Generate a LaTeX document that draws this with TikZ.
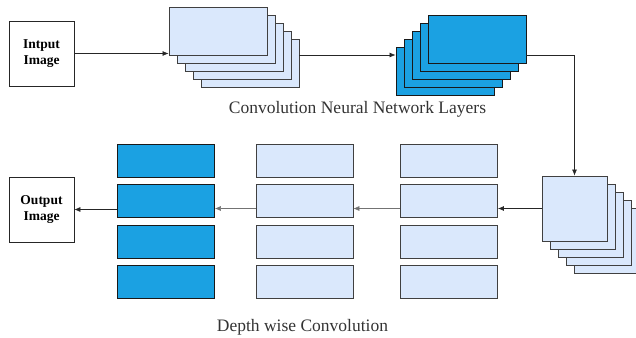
\documentclass[tikz,border=0pt]{standalone}
\usepackage{fontspec}
\setmainfont{Liberation Serif}
\usetikzlibrary{arrows.meta,calc}
\definecolor{lightb}{HTML}{DAE8FC}
\definecolor{darkb}{HTML}{1BA1E2}
\definecolor{edgeg}{HTML}{404040}
\tikzset{
  iobox/.style={draw=black!85, line width=0.7pt, fill=white, minimum width=65pt, minimum height=65pt, inner sep=0pt, align=center, font=\fontsize{13.5}{16}\selectfont\bfseries},
  lightbox/.style={draw=edgeg, line width=0.85pt, fill=lightb, inner sep=0pt},
  darkbox/.style={draw=black!90, line width=0.85pt, fill=darkb, inner sep=0pt},
  wide/.style={minimum width=98pt, minimum height=48pt},
  sq/.style={minimum width=65pt, minimum height=65pt},
  rowbox/.style={minimum width=97pt, minimum height=33pt},
  arr/.style={-{Latex[length=6pt,width=5pt]}, line width=0.7pt, draw=black!85},
  thinarr/.style={-{Latex[length=6pt,width=5pt]}, line width=0.5pt, draw=black!55},
  lbl/.style={font=\fontsize{17.5}{20}\selectfont, text=black!80, anchor=base, inner sep=0pt}
}
\begin{document}
\begin{tikzpicture}[x=1pt,y=-1pt]
\useasboundingbox (0,0) rectangle (636,337);
% input / output
\node[iobox] (in) at (41.5,53.5) {Intput\\Image};
\node[iobox] (out) at (41.5,209.5) {Output\\Image};
% stack 1 (light, offsets +8,+8)
\foreach \i/\n in {4/e,3/d,2/c,1/b,0/a}{
  \node[lightbox,wide] (s1\n) at (218+8*\i,31+8*\i) {};
}
% stack 2 (dark, offsets -8,+8)
\foreach \i/\n in {4/e,3/d,2/c,1/b,0/a}{
  \node[darkbox,wide] (s2\n) at (477-8*\i,39+8.2*\i) {};
}
% stack 3 (light squares, offsets +8,+8)
\foreach \i/\n in {4/e,3/d,2/c,1/b,0/a}{
  \node[lightbox,sq] (s3\n) at (574.5+8*\i,208.5+8.2*\i) {};
}
% columns
\foreach \y/\n in {160.5/a,201/b,242/c,281.5/d}{
  \node[darkbox,rowbox] (c1\n) at (166,\y) {};
  \node[lightbox,rowbox] (c2\n) at (304.5,\y) {};
  \node[lightbox,rowbox] (c3\n) at (449,\y) {};
}
% connectors
\draw[arr] (in.east) -- (in.east -| s1a.west);
\draw[arr] ([yshift=8pt]s1e.east) -- ([yshift=8pt]s1e.east -| s2e.west);
\draw[arr] ([yshift=-16pt]s2a.east) -| (s3a.north);
\draw[arr] (s3a.west) -- (s3a.west -| c3b.east);
\draw[thinarr] (c3b.west |- s3a.west) -- (c2b.east |- s3a.west);
\draw[thinarr] (c2b.west |- s3a.west) -- (c1b.east |- s3a.west);
\draw[arr] (c1b.west |- out.east) -- (out.east);
% labels
\node[lbl] (l1) at (357.5,113.5) {Convolution Neural Network Layers};
\node[lbl] (l2) at (302.5,331.5) {Depth wise Convolution};
\end{tikzpicture}
\end{document}
